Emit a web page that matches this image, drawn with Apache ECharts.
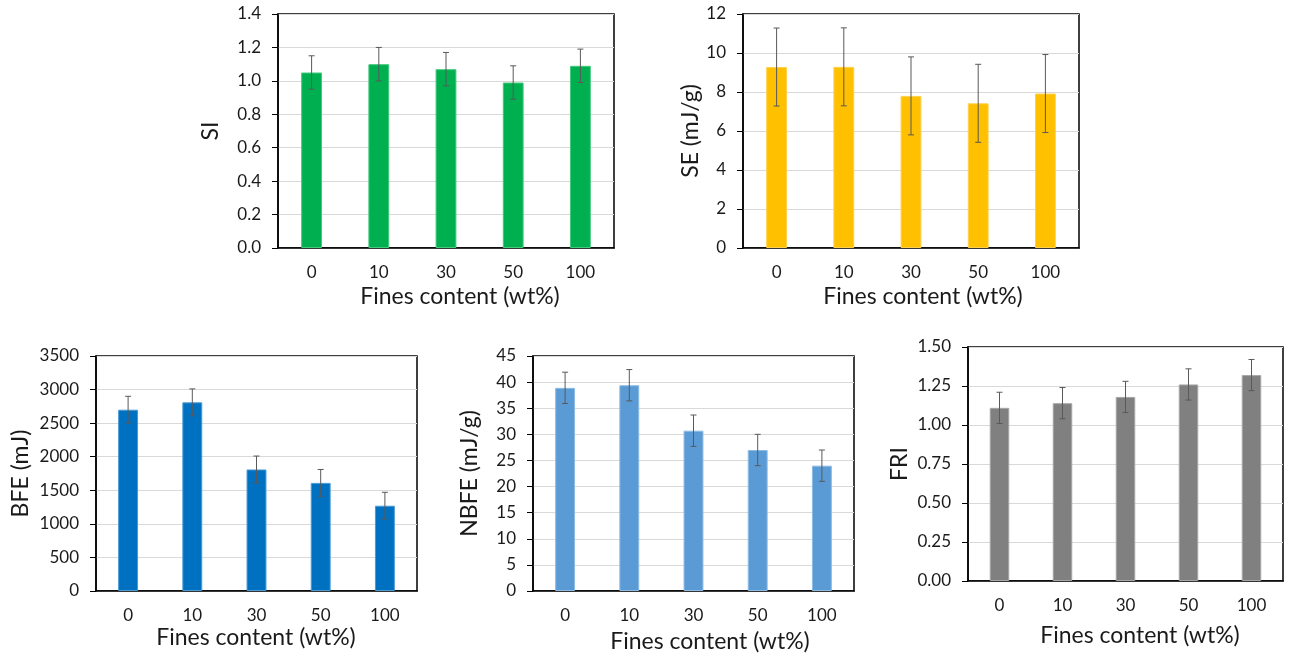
<!DOCTYPE html>
<html>
<head>
<meta charset="utf-8">
<style>
  html, body { margin: 0; padding: 0; background: #fff; }
  #chart { width: 1293px; height: 658px; }
</style>
<script src="https://cdn.jsdelivr.net/npm/echarts@6/dist/echarts.min.js"></script>
</head>
<body>
<div id="chart"></div>
<script>
const categories = ['0', '10', '30', '50', '100'];

const siMean = [1.05, 1.10, 1.07, 0.99, 1.09];
const siErr = [0.10, 0.10, 0.10, 0.10, 0.10];

const seMean = [9.28, 9.29, 7.8, 7.42, 7.92];
const seErr = [2, 2, 2, 2, 2];

const bfeMean = [2700, 2810, 1810, 1610, 1270];
const bfeErr = [200, 200, 200, 200, 200];

const nbfeMean = [38.9, 39.4, 30.7, 27.0, 24.0];
const nbfeErr = [3, 3, 3, 3, 3];

const friMean = [1.11, 1.14, 1.18, 1.26, 1.32];
const friErr = [0.10, 0.10, 0.10, 0.10, 0.10];

const xTitle = 'Fines content (wt%)';
const fontFamily = 'Lato, "Noto Sans", sans-serif';
const textColor = '#1a1a1a';

// one panel per measurement
const panels = [
  { name: 'SI', mean: siMean, err: siErr, color: '#00B050', border: '#45c97c', min: 0, max: 1.4, interval: 0.2, digits: 1,
    grid: { left: 278, top: 14, width: 336, height: 234 }, nameGap: 56, title: [460, 297] },
  { name: 'SE (mJ/g)', mean: seMean, err: seErr, color: '#FFC000', border: '#ffd04d', min: 0, max: 12, interval: 2, digits: 0,
    grid: { left: 743, top: 14, width: 336, height: 234 }, nameGap: 35, title: [923, 297] },
  { name: 'BFE (mJ)', mean: bfeMean, err: bfeErr, color: '#0070C0', border: '#4a9ad4', min: 0, max: 3500, interval: 500, digits: 0,
    grid: { left: 96, top: 356, width: 321, height: 235 }, nameGap: 64, title: [256, 638] },
  { name: 'NBFE (mJ/g)', mean: nbfeMean, err: nbfeErr, color: '#5B9BD5', border: '#8dbbe4', min: 0, max: 45, interval: 5, digits: 0,
    grid: { left: 533, top: 356, width: 321, height: 235 }, nameGap: 52, title: [710, 642] },
  { name: 'FRI', mean: friMean, err: friErr, color: '#808080', border: '#a6a6a6', min: 0, max: 1.5, interval: 0.25, digits: 2,
    grid: { left: 968, top: 347, width: 315, height: 234 }, nameGap: 57, title: [1140, 636] }
];

function errorBar(params, api) {
  const x = api.value(0);
  const top = api.coord([x, api.value(2)]);
  const bottom = api.coord([x, api.value(1)]);
  const cap = 3;
  const style = { stroke: '#595959', lineWidth: 1 };
  return {
    type: 'group',
    children: [
      { type: 'line', shape: { x1: top[0], y1: top[1], x2: bottom[0], y2: bottom[1] }, style },
      { type: 'line', shape: { x1: top[0] - cap, y1: top[1], x2: top[0] + cap, y2: top[1] }, style },
      { type: 'line', shape: { x1: bottom[0] - cap, y1: bottom[1], x2: bottom[0] + cap, y2: bottom[1] }, style }
    ]
  };
}

const grid = [];
const xAxis = [];
const yAxis = [];
const series = [];
const graphic = [];

panels.forEach((p, i) => {
  grid.push(Object.assign({ show: true, borderColor: '#000', borderWidth: 1.5, backgroundColor: '#fff' }, p.grid));
  xAxis.push({
    type: 'category',
    gridIndex: i,
    data: categories,
    axisTick: { show: false },
    axisLine: { lineStyle: { color: '#000', width: 1.5 } },
    axisLabel: { color: textColor, fontFamily, fontSize: 17, margin: 16 }
  });
  yAxis.push({
    type: 'value',
    gridIndex: i,
    min: p.min,
    max: p.max,
    interval: p.interval,
    name: p.name,
    nameLocation: 'middle',
    nameGap: p.nameGap,
    nameTextStyle: { color: textColor, fontFamily, fontSize: 23 },
    axisLine: { show: true, lineStyle: { color: '#000', width: 1.5 } },
    axisTick: { show: true, length: 6, lineStyle: { color: '#000' } },
    axisLabel: { color: textColor, fontFamily, fontSize: 17, margin: 17, formatter: v => v.toFixed(p.digits) },
    splitLine: { lineStyle: { color: '#D9D9D9', width: 1 } }
  });
  series.push({
    name: p.name,
    type: 'bar',
    xAxisIndex: i,
    yAxisIndex: i,
    data: p.mean,
    barWidth: '31%',
    itemStyle: { color: p.color, borderColor: p.border, borderWidth: 1 }
  });
  series.push({
    name: p.name + ' error',
    type: 'custom',
    xAxisIndex: i,
    yAxisIndex: i,
    renderItem: errorBar,
    data: p.mean.map((m, k) => [k, m - p.err[k], m + p.err[k]]),
    z: 5
  });
  graphic.push({
    type: 'text',
    x: p.title[0],
    y: p.title[1],
    style: { text: xTitle, fill: textColor, font: `23px ${fontFamily}`, align: 'center', verticalAlign: 'middle' }
  });
});

const chart = echarts.init(document.getElementById('chart'));
chart.setOption({
  animation: false,
  backgroundColor: '#fff',
  grid,
  xAxis,
  yAxis,
  series,
  graphic
});
</script>
</body>
</html>
